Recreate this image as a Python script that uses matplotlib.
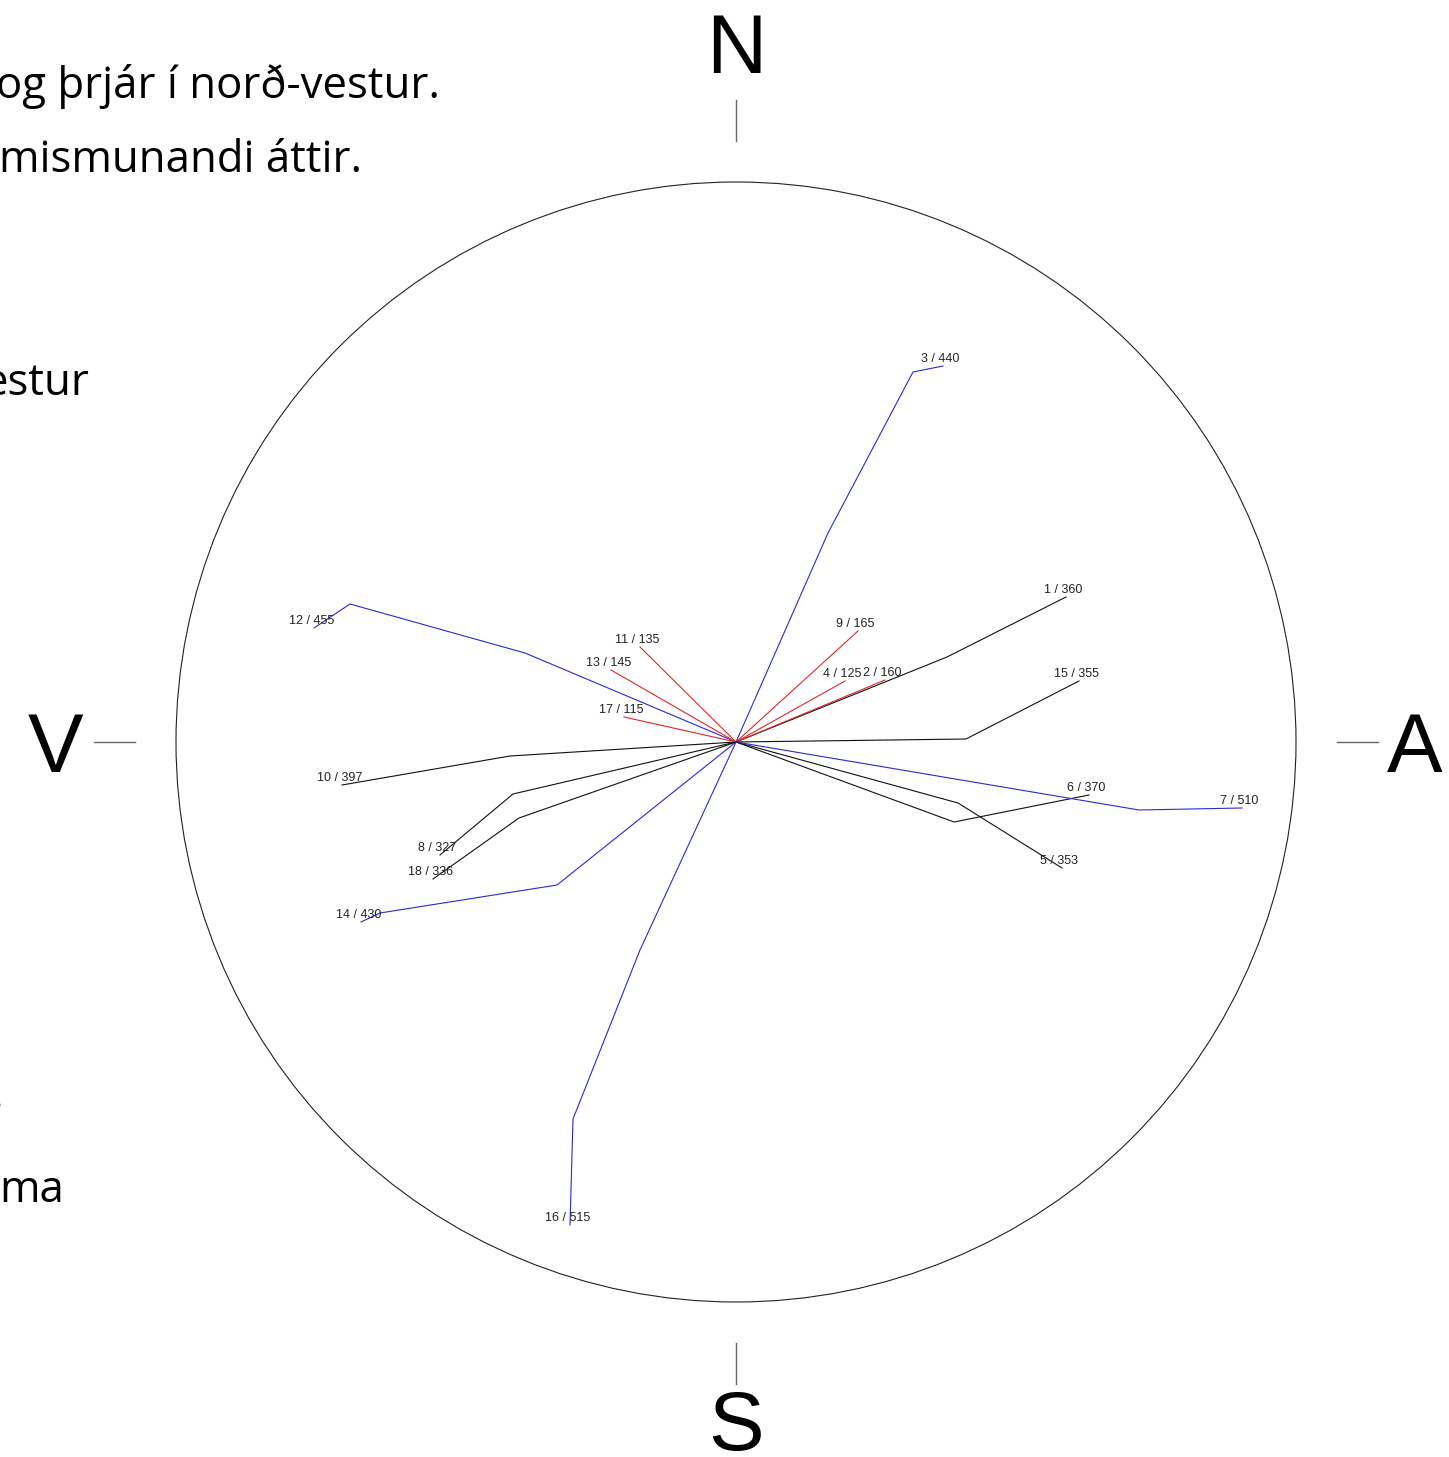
import matplotlib
matplotlib.use("Agg")
import matplotlib.pyplot as plt
from matplotlib.patches import Circle

# ---- data (east / north offsets from the centre, in chart units) ----
ids = [1, 2, 3, 4, 5, 6, 7, 8, 9, 10, 11, 12, 13, 14, 15, 16, 17, 18]
totals = [360, 160, 440, 125, 353, 370, 510, 327, 165, 397, 135, 455, 145, 430, 355, 515, 115, 336]
groups = ["mid", "short", "long", "short", "mid", "mid", "long", "mid", "short",
          "mid", "short", "long", "short", "long", "mid", "long", "short", "mid"]
path_x = [
    [0, 211, 330],
    [0, 149],
    [0, 92, 177, 207],
    [0, 109],
    [0, 222, 326],
    [0, 218, 353],
    [0, 403, 506],
    [0, -223, -296],
    [0, 122],
    [0, -226, -394],
    [0, -96],
    [0, -211, -386, -422],
    [0, -125],
    [0, -179, -356, -375],
    [0, 230, 343],
    [0, -96, -163, -166],
    [0, -112],
    [0, -217, -303],
]
path_y = [
    [0, 85, 145],
    [0, 62],
    [0, 209, 370, 376],
    [0, 61],
    [0, -61, -126],
    [0, -80, -53],
    [0, -68, -66],
    [0, -52, -113],
    [0, 111],
    [0, -14, -43],
    [0, 95],
    [0, 89, 138, 114],
    [0, 72],
    [0, -143, -171, -180],
    [0, 3, 61],
    [0, -208, -377, -483],
    [0, 25],
    [0, -76, -137],
]
group_colors = {"short": "#e02828", "mid": "#111111", "long": "#2a2ad0"}
compass_letters = ["N", "A", "S", "V"]
text_fragments = ["og þrjár í norð-vestur.", "mismunandi áttir.", "estur", ".", "ma"]

# ---- figure ----
W, H = 1449, 1457
CX, CY = 736, 742
fig = plt.figure(figsize=(W / 100, H / 100), dpi=100)
ax = fig.add_axes([0, 0, 1, 1])
ax.set_xlim(-CX, W - CX)
ax.set_ylim(-(H - CY), CY)
ax.set_aspect("equal")
ax.axis("off")

R = 560
ax.add_patch(Circle((0, 0), R, fill=False, edgecolor="#222222", lw=0.8))

# compass ticks and letters
tick_in, tick_out = 601, 642
ax.plot([0, 0], [tick_in, tick_out], color="#666666", lw=1.0)
ax.plot([0, 0], [-tick_in, -tick_out], color="#666666", lw=1.0)
ax.plot([tick_in, tick_out], [0, 0], color="#666666", lw=1.0)
ax.plot([-tick_in, -tick_out], [0, 0], color="#666666", lw=1.0)
letter_pos = {"N": (0, 669), "A": (679, -30), "S": (0, -708), "V": (-681, -30)}
for L in compass_letters:
    x, y = letter_pos[L]
    ax.text(x, y, L, ha="center", va="baseline", fontsize=60,
            family="Liberation Sans", color="black")

# paths
for n, v, g, xs, ys in zip(ids, totals, groups, path_x, path_y):
    ax.plot(xs, ys, color=group_colors[g], lw=0.8, solid_joinstyle="miter")
    ax.annotate(f"{n} / {v}", (xs[-1], ys[-1]), xytext=(-2, 5),
                textcoords="offset points", ha="center", va="center",
                fontsize=9, family="Liberation Sans", color="#222222")

# left-side text fragments (cut-off paragraph)
frag_pos = [(-740, 644), (-737, 570), (-752, 347), (-744, -366), (-737, -460)]
for t, (x, y) in zip(text_fragments, frag_pos):
    ax.text(x, y, t, ha="left", va="baseline", fontsize=31.5,
            family="Open Sans", color="black")

fig.savefig("out.png", dpi=100, facecolor="white")
